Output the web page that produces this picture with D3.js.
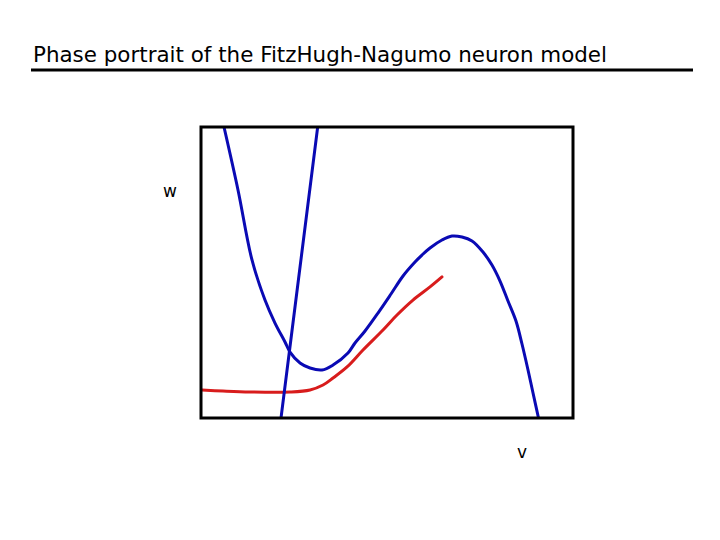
<!DOCTYPE html>
<html>
<head>
<meta charset="utf-8">
<script src="https://cdn.jsdelivr.net/npm/d3@7/dist/d3.min.js"></script>
<style>
  html, body { margin: 0; padding: 0; background: #ffffff; }
  svg { display: block; }
</style>
</head>
<body>
<svg id="chart" width="720" height="540"></svg>
<script>
// ---- Data (v, w) ----
const titleText = "Phase portrait of the FitzHugh-Nagumo neuron model";
const xLabel = "v";
const yLabel = "w";

// cubic v-nullcline
const vNullV = [-2.410, -2.203, -1.996, -1.804, -1.656, -1.508, -1.434, -1.286, -1.138, -0.961, -0.798, -0.577, -0.473, -0.325, -0.133, 0.059, 0.237, 0.414, 0.517, 0.636, 0.813, 0.961, 1.109, 1.257, 1.419, 1.552, 1.671, 1.789, 1.907, 1.996, 2.085, 2.159, 2.240];
const vNullW = [1.800, 1.151, 0.429, 0.016, -0.221, -0.416, -0.520, -0.633, -0.685, -0.705, -0.654, -0.530, -0.427, -0.303, -0.118, 0.078, 0.264, 0.408, 0.480, 0.553, 0.635, 0.676, 0.666, 0.625, 0.511, 0.377, 0.212, 0.006, -0.200, -0.437, -0.705, -0.942, -1.200];

// linear w-nullcline
const wNullV = [-1.025, -1.296, -1.567];
const wNullW = [1.800, 0.300, -1.200];

// trajectory
const trajV = [-2.735, -2.425, -2.026, -1.434, -1.138, -0.946, -0.798, -0.591, -0.355, -0.059, 0.148, 0.384, 0.636, 0.813];
const trajW = [-0.911, -0.922, -0.932, -0.932, -0.911, -0.860, -0.788, -0.674, -0.499, -0.293, -0.138, 0.016, 0.151, 0.254];

const vDomain = [-2.75, 2.75];
const wDomain = [-1.2, 1.8];

// ---- Layout ----
const svg = d3.select("#chart");
const box = { left: 201, top: 127, right: 573, bottom: 418 };

const x = d3.scaleLinear().domain(vDomain).range([box.left, box.right]);
const y = d3.scaleLinear().domain(wDomain).range([box.bottom, box.top]);

// Title
svg.append("text")
  .attr("x", 33)
  .attr("y", 62)
  .attr("font-family", "DejaVu Sans, sans-serif")
  .attr("font-size", 21)
  .attr("textLength", 574)
  .attr("lengthAdjust", "spacingAndGlyphs")
  .attr("fill", "#000")
  .text(titleText);

svg.append("line")
  .attr("x1", 31).attr("x2", 693)
  .attr("y1", 70).attr("y2", 70)
  .attr("stroke", "#000").attr("stroke-width", 3);

// clip
svg.append("clipPath").attr("id", "plotclip")
  .append("rect")
  .attr("x", box.left).attr("y", box.top)
  .attr("width", box.right - box.left).attr("height", box.bottom - box.top);

const g = svg.append("g").attr("clip-path", "url(#plotclip)");

const line = d3.line()
  .x(d => x(d[0]))
  .y(d => y(d[1]))
  .curve(d3.curveCatmullRom.alpha(0.5));

const zip = (a, b) => a.map((v, i) => [v, b[i]]);

g.append("path")
  .datum(zip(trajV, trajW))
  .attr("d", line)
  .attr("fill", "none")
  .attr("stroke", "#d81c1c")
  .attr("stroke-width", 3)
  .attr("stroke-linecap", "round");

g.append("path")
  .datum(zip(vNullV, vNullW))
  .attr("d", line)
  .attr("fill", "none")
  .attr("stroke", "#0a0ab4")
  .attr("stroke-width", 3)
  .attr("stroke-linejoin", "round");

g.append("path")
  .datum(zip(wNullV, wNullW))
  .attr("d", d3.line().x(d => x(d[0])).y(d => y(d[1])))
  .attr("fill", "none")
  .attr("stroke", "#0a0ab4")
  .attr("stroke-width", 3);

// Box frame
svg.append("rect")
  .attr("x", box.left).attr("y", box.top)
  .attr("width", box.right - box.left).attr("height", box.bottom - box.top)
  .attr("fill", "none")
  .attr("stroke", "#000")
  .attr("stroke-width", 3);

// Axis labels
svg.append("text")
  .attr("x", 170).attr("y", 197)
  .attr("text-anchor", "middle")
  .attr("font-family", "DejaVu Sans, sans-serif")
  .attr("font-size", 17)
  .attr("fill", "#000")
  .text(yLabel);

svg.append("text")
  .attr("x", 522).attr("y", 458)
  .attr("text-anchor", "middle")
  .attr("font-family", "DejaVu Sans, sans-serif")
  .attr("font-size", 17)
  .attr("fill", "#000")
  .text(xLabel);
</script>
</body>
</html>
